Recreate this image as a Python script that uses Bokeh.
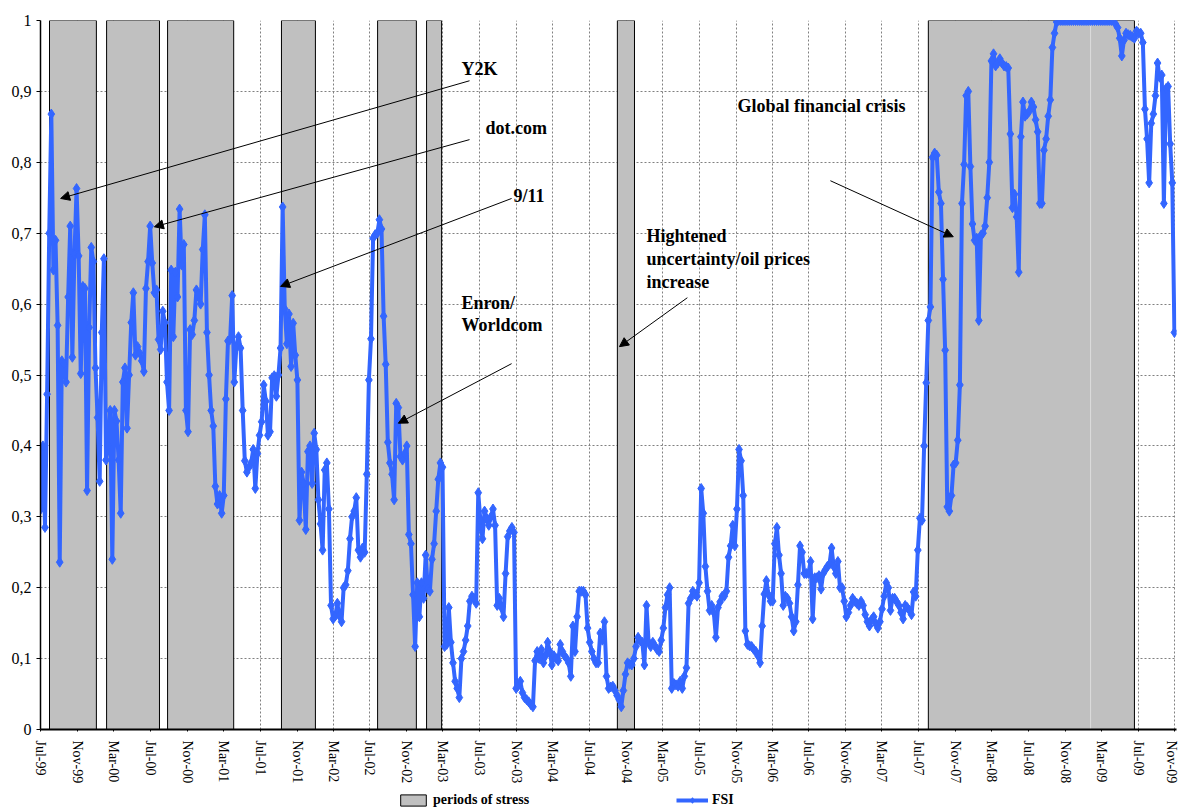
import numpy as np
import pandas as pd
from bokeh.plotting import figure
from bokeh.layouts import column
from bokeh.models import (Range1d, FixedTicker, DatetimeTickFormatter, CustomJSTickFormatter,
                          ColumnDataSource, Label, Arrow, NormalHead, Legend, LegendItem)
from bokeh.embed import file_html
from bokeh.resources import INLINE

# ---------------- data ----------------
FSI_FIRST_WEEK = "1999-07-02"   # weekly observations
FSI = [
    0.311, 0.40, 0.285, 0.473, 0.70, 0.868, 0.648, 0.69, 0.57, 0.236,
    0.52, 0.515, 0.49, 0.61, 0.71, 0.525, 0.67, 0.763, 0.668, 0.502,
    0.625, 0.622, 0.337, 0.567, 0.68, 0.66, 0.51, 0.44, 0.35, 0.56,
    0.664, 0.38, 0.40, 0.45, 0.24, 0.45, 0.435, 0.38, 0.305, 0.49,
    0.51, 0.425, 0.50, 0.574, 0.616, 0.528, 0.54, 0.531, 0.52, 0.505,
    0.622, 0.66, 0.71, 0.658, 0.616, 0.62, 0.55, 0.536, 0.59, 0.574,
    0.49, 0.45, 0.648, 0.554, 0.645, 0.61, 0.734, 0.655, 0.684, 0.45,
    0.42, 0.564, 0.557, 0.577, 0.62, 0.614, 0.60, 0.677, 0.726, 0.56,
    0.50, 0.45, 0.428, 0.343, 0.318, 0.33, 0.305, 0.33, 0.466, 0.548,
    0.55, 0.612, 0.49, 0.54, 0.554, 0.538, 0.45, 0.379, 0.363, 0.37,
    0.376, 0.395, 0.34, 0.389, 0.415, 0.434, 0.486, 0.463, 0.415, 0.42,
    0.496, 0.499, 0.47, 0.50, 0.538, 0.737, 0.593, 0.544, 0.586, 0.512,
    0.573, 0.528, 0.493, 0.295, 0.363, 0.347, 0.282, 0.392, 0.40, 0.347,
    0.418, 0.395, 0.324, 0.29, 0.253, 0.366, 0.376, 0.311, 0.175, 0.156,
    0.16, 0.178, 0.16, 0.152, 0.20, 0.204, 0.224, 0.269, 0.30, 0.308,
    0.327, 0.253, 0.243, 0.256, 0.25, 0.36, 0.493, 0.551, 0.693, 0.698,
    0.70, 0.719, 0.706, 0.583, 0.515, 0.405, 0.376, 0.36, 0.324, 0.46,
    0.454, 0.385, 0.38, 0.389, 0.40, 0.275, 0.262, 0.19, 0.117, 0.207,
    0.159, 0.207, 0.185, 0.246, 0.198, 0.195, 0.24, 0.262, 0.308, 0.353,
    0.376, 0.37, 0.117, 0.12, 0.172, 0.123, 0.094, 0.068, 0.058, 0.045,
    0.10, 0.11, 0.126, 0.146, 0.181, 0.188, 0.185, 0.178, 0.334, 0.295,
    0.269, 0.308, 0.298, 0.288, 0.30, 0.311, 0.288, 0.175, 0.185, 0.172,
    0.159, 0.22, 0.272, 0.28, 0.285, 0.278, 0.058, 0.062, 0.068, 0.052,
    0.045, 0.042, 0.039, 0.035, 0.032, 0.097, 0.11, 0.10, 0.113, 0.094,
    0.104, 0.123, 0.11, 0.091, 0.104, 0.10, 0.097, 0.12, 0.11, 0.104,
    0.10, 0.094, 0.075, 0.146, 0.11, 0.159, 0.195, 0.195, 0.195, 0.19,
    0.143, 0.123, 0.11, 0.10, 0.094, 0.094, 0.136, 0.126, 0.152, 0.075,
    0.058, 0.06, 0.061, 0.055, 0.048, 0.042, 0.032, 0.055, 0.078, 0.094,
    0.092, 0.091, 0.10, 0.117, 0.13, 0.125, 0.123, 0.091, 0.175, 0.123,
    0.117, 0.123, 0.118, 0.113, 0.11, 0.126, 0.143, 0.172, 0.19, 0.20,
    0.058, 0.065, 0.063, 0.061, 0.068, 0.058, 0.075, 0.087, 0.178, 0.185,
    0.195, 0.191, 0.188, 0.207, 0.34, 0.305, 0.23, 0.195, 0.168, 0.175,
    0.165, 0.13, 0.172, 0.18, 0.188, 0.188, 0.195, 0.243, 0.259, 0.288,
    0.259, 0.311, 0.395, 0.379, 0.33, 0.139, 0.12, 0.118, 0.117, 0.113,
    0.11, 0.104, 0.094, 0.146, 0.191, 0.21, 0.19, 0.181, 0.181, 0.262,
    0.285, 0.246, 0.22, 0.175, 0.188, 0.185, 0.178, 0.159, 0.139, 0.152,
    0.204, 0.259, 0.25, 0.22, 0.22, 0.22, 0.237, 0.156, 0.214, 0.214,
    0.217, 0.198, 0.22, 0.225, 0.23, 0.233, 0.256, 0.23, 0.22, 0.237,
    0.20, 0.20, 0.181, 0.159, 0.165, 0.175, 0.185, 0.181, 0.178, 0.175,
    0.181, 0.175, 0.162, 0.152, 0.146, 0.155, 0.159, 0.149, 0.143, 0.152,
    0.17, 0.188, 0.207, 0.20, 0.168, 0.185, 0.185, 0.18, 0.175, 0.165,
    0.156, 0.175, 0.172, 0.168, 0.162, 0.194, 0.188, 0.253, 0.298, 0.295,
    0.40, 0.489, 0.577, 0.596, 0.807, 0.813, 0.81, 0.758, 0.742, 0.635,
    0.535, 0.314, 0.308, 0.33, 0.373, 0.376, 0.408, 0.486, 0.742, 0.797,
    0.894, 0.90, 0.794, 0.713, 0.69, 0.693, 0.577, 0.697, 0.70, 0.71,
    0.75, 0.80, 0.943, 0.953, 0.936, 0.94, 0.946, 0.94, 0.936, 0.935,
    0.933, 0.84, 0.736, 0.755, 0.723, 0.645, 0.836, 0.885, 0.865, 0.868,
    0.872, 0.885, 0.878, 0.86, 0.843, 0.742, 0.742, 0.817, 0.833, 0.865,
    0.888, 0.962, 0.982, 0.998, 1.0, 1.0, 1.0, 1.0, 1.0, 1.0,
    1.0, 1.0, 1.0, 1.0, 1.0, 1.0, 1.0, 1.0, 1.0, 1.0,
    1.0, 1.0, 1.0, 1.0, 1.0, 1.0, 1.0, 1.0, 1.0, 1.0,
    1.0, 0.995, 0.99, 0.975, 0.95, 0.972, 0.982, 0.98, 0.979, 0.977,
    0.975, 0.985, 0.982, 0.982, 0.969, 0.875, 0.833, 0.771, 0.855, 0.868,
    0.894, 0.94, 0.92, 0.923, 0.742, 0.904, 0.907, 0.826, 0.771, 0.56,
]

STRESS_START = ["1999-07-31", "2000-02-06", "2000-08-27", "2001-09-10",
                "2002-07-27", "2003-01-06", "2004-10-02", "2007-08-03"]
STRESS_END = ["2000-01-03", "2000-07-31", "2001-04-04", "2002-01-01",
              "2002-12-03", "2003-02-25", "2004-11-28", "2009-06-19"]
STRESS_SPLIT = ["2009-01-24"]

X_TICK_LABELS = ["Jul-99", "Nov-99",
                 "Mar-00", "Jul-00", "Nov-00", "Mar-01", "Jul-01", "Nov-01",
                 "Mar-02", "Jul-02", "Nov-02", "Mar-03", "Jul-03", "Nov-03",
                 "Mar-04", "Jul-04", "Nov-04", "Mar-05", "Jul-05", "Nov-05",
                 "Mar-06", "Jul-06", "Nov-06", "Mar-07", "Jul-07", "Nov-07",
                 "Mar-08", "Jul-08", "Nov-08", "Mar-09", "Jul-09", "Nov-09"]
Y_TICK_LABELS = ["0", "0,1", "0,2", "0,3", "0,4", "0,5", "0,6", "0,7", "0,8", "0,9", "1"]
LEGEND_LABELS = ["periods of stress", "FSI"]

# ---------------- helpers ----------------
def ms(d):
    return pd.Timestamp(d).value / 1e6

SERIF = "Liberation Serif"
BLUE = "#3366FF"
GRAY = "#C0C0C0"

dates = pd.date_range(FSI_FIRST_WEEK, periods=len(FSI), freq="7D")
src = ColumnDataSource(dict(x=dates, y=FSI))
stress_src = ColumnDataSource(dict(left=pd.to_datetime(STRESS_START),
                                   right=pd.to_datetime(STRESS_END)))

x_ticks = [ms(pd.to_datetime(l, format="%b-%y")) for l in X_TICK_LABELS]
y_ticks = [i / 10 for i in range(len(Y_TICK_LABELS))]

p = figure(frame_width=1136, frame_height=709, x_axis_type="datetime",
           x_range=Range1d(ms("1999-07-01"), ms("2009-11-06")),
           y_range=Range1d(0, 1),
           output_backend="svg", toolbar_location=None,
           min_border_left=40, min_border_right=2, min_border_top=20, min_border_bottom=59)
p.outline_line_color = None
p.background_fill_color = "white"

# axes
p.xaxis.ticker = FixedTicker(ticks=x_ticks)
fmt = "%b-%y"
p.xaxis.formatter = DatetimeTickFormatter(microseconds=fmt, milliseconds=fmt, seconds=fmt,
                                          minsec=fmt, minutes=fmt, hourmin=fmt, hours=fmt,
                                          days=fmt, months=fmt, years=fmt)
p.xaxis.major_label_orientation = -np.pi / 2
p.xaxis.major_label_text_font = SERIF
p.xaxis.major_label_text_font_size = "14px"
p.xaxis.major_label_text_color = "black"
p.xaxis.major_label_standoff = 9
p.xaxis.major_tick_out = 2
p.xaxis.major_tick_in = 0
p.xaxis.minor_tick_line_color = None
p.xaxis.axis_line_width = 2
p.xaxis.axis_line_color = "black"

p.yaxis.ticker = FixedTicker(ticks=y_ticks)
p.yaxis.formatter = CustomJSTickFormatter(args=dict(labels=Y_TICK_LABELS),
                                          code="return labels[Math.round(tick*10)];")
p.yaxis.major_label_text_font = SERIF
p.yaxis.major_label_text_font_size = "16px"
p.yaxis.major_label_text_color = "black"
p.yaxis.major_label_standoff = 5
p.yaxis.major_tick_out = 4
p.yaxis.major_tick_in = 0
p.yaxis.minor_tick_line_color = None
p.yaxis.axis_line_width = 1.5
p.yaxis.axis_line_color = "black"

for g in (p.xgrid, p.ygrid):
    g.grid_line_color = "#808080"
    g.grid_line_dash = "2 2"
    g.grid_line_width = 1

# stress periods
p.quad(left="left", right="right", bottom=0, top=1, source=stress_src,
       fill_color=GRAY, line_color="black", line_width=1)
p.segment(x0=pd.to_datetime(STRESS_SPLIT), y0=0, x1=pd.to_datetime(STRESS_SPLIT), y1=1,
          line_color="#dcdcdc", line_width=1)

# FSI
p.line("x", "y", source=src, line_color=BLUE, line_width=4)
p.scatter("x", "y", source=src, marker="diamond", size=10, fill_color=BLUE, line_color=BLUE)

# annotations
ann_font = dict(text_font=SERIF, text_font_style="bold", text_font_size="18px",
                text_color="black", text_baseline="middle", text_align="left")
ANNOTATIONS = [
    ("Y2K", "2003-05-02", 0.932),
    ("dot.com", "2003-07-21", 0.848),
    ("9/11", "2003-10-22", 0.753),
    ("Enron/", "2003-05-02", 0.602),
    ("Worldcom", "2003-05-02", 0.570),
    ("Hightened", "2005-01-07", 0.696),
    ("uncertainty/oil prices", "2005-01-07", 0.664),
    ("increase", "2005-01-07", 0.631),
    ("Global financial crisis", "2005-11-06", 0.880),
]
for txt, d, v in ANNOTATIONS:
    p.add_layout(Label(x=ms(d), y=v, text=txt, **ann_font))

ARROWS = [
    ("2003-05-29", 0.915, "1999-09-06", 0.749),
    ("2003-05-29", 0.832, "2000-07-14", 0.709),
    ("2003-10-16", 0.749, "2001-09-07", 0.625),
    ("2003-10-16", 0.516, "2002-10-04", 0.432),
    ("2005-05-23", 0.609, "2004-10-09", 0.540),
    ("2006-09-11", 0.774, "2007-10-25", 0.695),
]
for d0, v0, d1, v1 in ARROWS:
    p.add_layout(Arrow(end=NormalHead(size=9, fill_color="black", line_color="black", line_width=1),
                       x_start=ms(d0), y_start=v0, x_end=ms(d1), y_end=v1,
                       line_color="black", line_width=1))

# ---------------- legend strip (separate figure; key renderers sit off-range) ----------------
lg = figure(width=1178, height=20, x_range=Range1d(0, 1), y_range=Range1d(0, 1),
            output_backend="svg", toolbar_location=None,
            x_axis_location=None, y_axis_location=None, min_border=0)
lg.outline_line_color = None
lg.grid.visible = False
key_src = ColumnDataSource(dict(l=[-3], r=[-2], b=[-3], t=[-2], x=[-3], y=[-3]))
k_quad = lg.quad(left="l", right="r", bottom="b", top="t", source=key_src,
                 fill_color=GRAY, line_color="black", line_width=1)
k_line = lg.line("x", "y", source=key_src, line_color=BLUE, line_width=4)
k_pts = lg.scatter("x", "y", source=key_src, marker="diamond", size=10,
                   fill_color=BLUE, line_color=BLUE)
legend = Legend(items=[LegendItem(label=LEGEND_LABELS[0], renderers=[k_quad]),
                       LegendItem(label=LEGEND_LABELS[1], renderers=[k_line, k_pts])],
                location=(357, 0), orientation="horizontal",
                padding=0, margin=0, spacing=136, label_width=107,
                glyph_width=32, glyph_height=14, label_standoff=4, label_height=16,
                border_line_alpha=0, background_fill_alpha=0,
                label_text_font=SERIF, label_text_font_style="bold",
                label_text_font_size="14px", label_text_color="black")
lg.add_layout(legend, "center")

layout = column(p, lg, spacing=0)
open("out.html", "w").write(file_html(layout, INLINE))
